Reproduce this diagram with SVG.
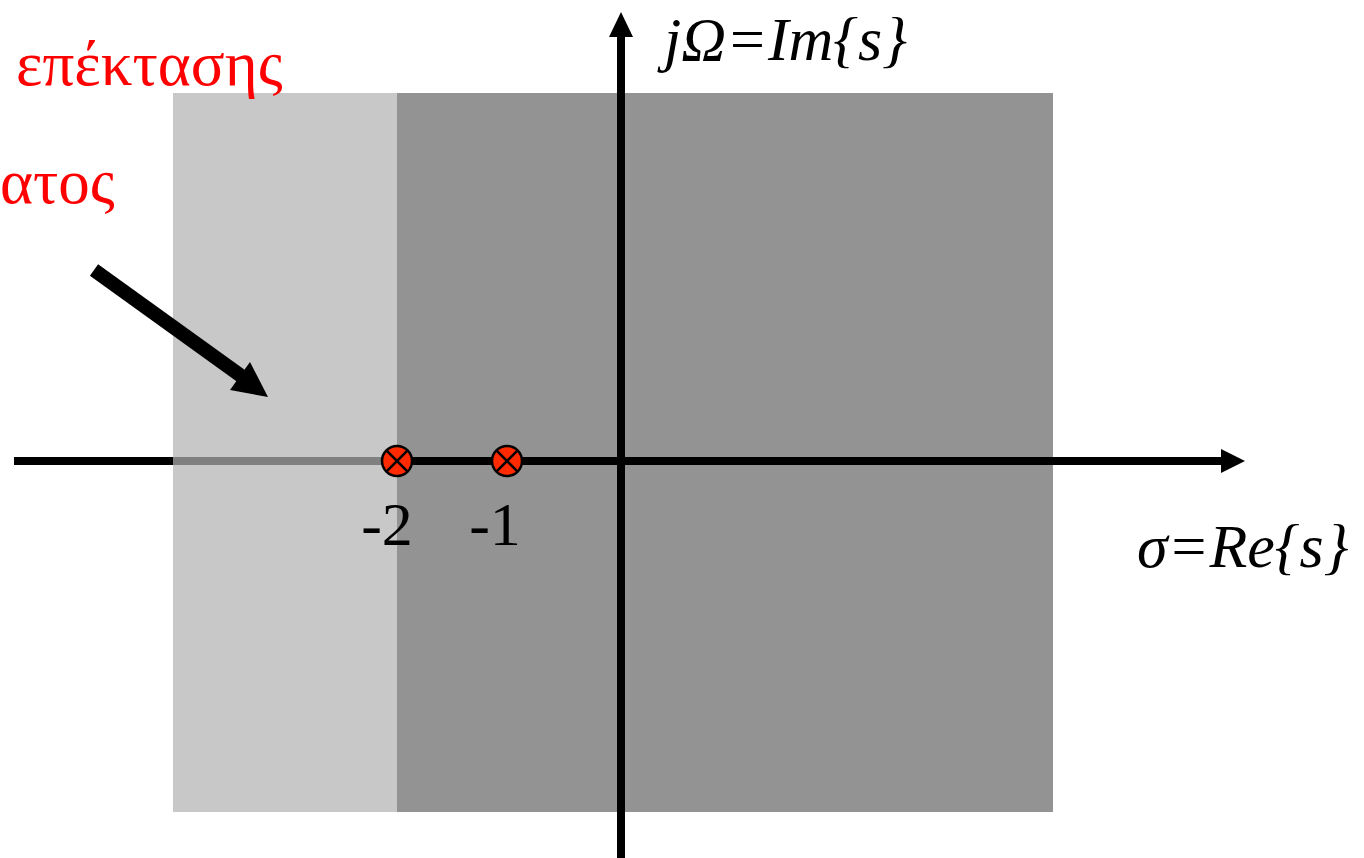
<svg xmlns="http://www.w3.org/2000/svg" width="1364" height="858" viewBox="0 0 1364 858">
<style>
.lbl{font-family:'Liberation Serif','Times New Roman','DejaVu Serif',serif;font-size:62px;fill:#000}
.it{font-style:italic}
.red{font-family:'Liberation Serif','Times New Roman','DejaVu Serif',serif;font-size:63px;fill:#ff0000}
.ax{stroke:#000;stroke-width:8;fill:none}
.pole{fill:#ff2a00;stroke:#000;stroke-width:2.5}
.px{stroke:#000;stroke-width:2.5}
</style>
<rect width="1364" height="858" fill="#fff"/>
<g id="regions">
<rect x="173" y="93" width="224" height="719" fill="#c8c8c8"/>
<rect x="397" y="93" width="656" height="719" fill="#939393"/>
</g>
<g id="connectors">
<line class="ax" x1="14" y1="461" x2="173" y2="461"/>
<line x1="173" y1="461" x2="397" y2="461" stroke="#808080" stroke-width="8"/>
<line class="ax" x1="397" y1="461" x2="1224" y2="461"/>
<polygon points="1221,449 1245,461 1221,473" fill="#000"/>
<line class="ax" x1="621" y1="858" x2="621" y2="34"/>
<polygon points="609,37 621,12 633,37" fill="#000"/>
<line x1="94" y1="270" x2="244" y2="378" stroke="#000" stroke-width="14"/>
<polygon points="230,390 250,362 268,397" fill="#000"/>
</g>
<g id="pole-2">
<circle class="pole" cx="397" cy="461" r="15"/>
<line class="px" x1="386.4" y1="450.4" x2="407.6" y2="471.6"/>
<line class="px" x1="386.4" y1="471.6" x2="407.6" y2="450.4"/>
</g>
<g id="pole-1">
<circle class="pole" cx="507" cy="461" r="15"/>
<line class="px" x1="496.4" y1="450.4" x2="517.6" y2="471.6"/>
<line class="px" x1="496.4" y1="471.6" x2="517.6" y2="450.4"/>
</g>
<g id="labels">
<text class="lbl" x="387" y="545" text-anchor="middle">-2</text>
<text class="lbl" x="495" y="545" text-anchor="middle">-1</text>
<text class="lbl it" x="664" y="60">jΩ=Im{s}</text>
<text class="lbl it" x="1137" y="567">σ=Re{s}</text>
<text class="red" x="16" y="85">επέκτασης</text>
<text class="red" x="0" y="203">ατος</text>
</g>
</svg>
